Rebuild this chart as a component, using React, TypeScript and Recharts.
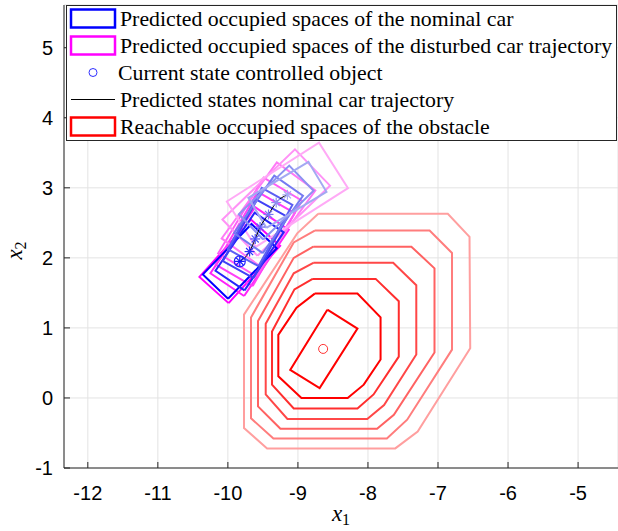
import React from "react";
import {
  ComposedChart,
  Line,
  Scatter,
  XAxis,
  YAxis,
  CartesianGrid,
  Legend,
} from "recharts";

const xTicks = [-12, -11, -10, -9, -8, -7, -6, -5];
const yTicks = [-1, 0, 1, 2, 3, 4, 5];

// nominal car trajectory: states and headings (deg)
const trajX = [-9.83, -9.69, -9.61, -9.54, -9.42, -9.31, -9.15];
const trajY = [1.95, 2.09, 2.27, 2.44, 2.62, 2.79, 2.9];
const headingNom = [46, 56, 61, 61, 55, 44, 31];
const carLength = 1.0;
const carWidth = 0.5;

// disturbed car: occupied box sizes grow along the horizon
const distLength = [1.1, 1.14, 1.2, 1.26, 1.34, 1.44, 1.56];
const distWidth = [0.56, 0.58, 0.61, 0.64, 0.68, 0.72, 0.77];
const headingDist = [48, 56, 60, 59, 54, 44, 32.5];

const blueColors = ["#0000ff", "#2424fb", "#4141f6", "#5c5ff3", "#7479f1", "#8c92f1", "#a3a9f2"];
const pinkColors = ["#ff00ff", "#ff22f9", "#ff40f7", "#ff5cf6", "#ff78f6", "#ff92f6", "#ffaaf6"];
const starColors = ["#1010ff", "#2e2efa", "#4848f6", "#6060f4", "#7878f3", "#9090f3", "#a5a8f4"];

// obstacle: current box and center
const obstacleX = [-8.58, -8.15, -8.69, -9.11];
const obstacleY = [1.26, 0.99, 0.14, 0.4];
const obstacleCenter = { x: -8.64, y: 0.7 };

// reachable occupied spaces of the obstacle, inner to outer
const reachX = [
  [-8.76, -8.15, -7.82, -7.82, -8.06, -8.29, -8.95, -9.28, -9.28, -9.02],
  [-8.79, -7.89, -7.56, -7.56, -7.92, -8.15, -9.06, -9.37, -9.37, -9.05],
  [-8.78, -7.64, -7.31, -7.31, -7.77, -8.01, -9.15, -9.46, -9.46, -9.06],
  [-8.78, -7.38, -7.05, -7.05, -7.63, -7.87, -9.25, -9.57, -9.57, -9.06],
  [-8.76, -7.12, -6.8, -6.8, -7.44, -7.73, -9.35, -9.67, -9.67, -9.06],
  [-8.71, -6.86, -6.55, -6.54, -7.29, -7.61, -9.44, -9.77, -9.77, -9.01],
];
const reachY = [
  [1.49, 1.49, 1.15, 0.55, 0.19, 0.0, 0.0, 0.31, 0.9, 1.29],
  [1.7, 1.7, 1.38, 0.59, 0.05, -0.15, -0.15, 0.19, 0.95, 1.55],
  [1.93, 1.93, 1.61, 0.62, -0.1, -0.3, -0.3, 0.05, 1.06, 1.78],
  [2.16, 2.16, 1.85, 0.65, -0.24, -0.44, -0.44, -0.12, 1.1, 2.0],
  [2.39, 2.39, 2.07, 0.69, -0.31, -0.58, -0.58, -0.29, 1.15, 2.22],
  [2.63, 2.63, 2.3, 0.71, -0.48, -0.72, -0.72, -0.43, 1.19, 2.35],
];
const reachColors = ["#ff0000", "#ff2e2e", "#ff4747", "#ff6262", "#ff7d7d", "#ff9f9f"];

const legendItems = [
  { label: "Predicted occupied spaces of the nominal car", kind: "box", color: "#0000ff" },
  { label: "Predicted occupied spaces of the disturbed car trajectory", kind: "box", color: "#ff00ff" },
  { label: "Current state controlled object", kind: "circle", color: "#3030ff" },
  { label: "Predicted states nominal car trajectory", kind: "line", color: "#000000" },
  { label: "Reachable occupied spaces of the obstacle", kind: "box", color: "#ff0000" },
];

function boxPoints(cx: number, cy: number, L: number, W: number, deg: number) {
  const t = (deg * Math.PI) / 180;
  const c = Math.cos(t);
  const s = Math.sin(t);
  const corners = [
    [-L / 2, -W / 2],
    [L / 2, -W / 2],
    [L / 2, W / 2],
    [-L / 2, W / 2],
    [-L / 2, -W / 2],
  ];
  return corners.map(([a, b]) => ({ x: cx + a * c - b * s, y: cy + a * s + b * c }));
}

function closed(xs: number[], ys: number[]) {
  const pts = xs.map((x, i) => ({ x, y: ys[i] }));
  return [...pts, pts[0]];
}

const nominalBoxes = trajX.map((x, i) => boxPoints(x, trajY[i], carLength, carWidth, headingNom[i]));
const disturbedBoxes = trajX.map((x, i) => boxPoints(x, trajY[i], distLength[i], distWidth[i], headingDist[i]));
const reachSets = reachX.map((xs, i) => closed(xs, reachY[i]));
const obstacleBox = closed(obstacleX, obstacleY);
const trajectory = trajX.map((x, i) => ({ x, y: trajY[i], color: starColors[i] }));

const tickFont = "'Liberation Sans', Arial, sans-serif";
const serif = "'Liberation Serif', 'Times New Roman', serif";

const XTick = (props: any) => {
  const { x, y, payload } = props;
  return (
    <g>
      <line x1={x} y1={y} x2={x} y2={y - 6} stroke="#262626" />
      <text x={x} y={y + 32} textAnchor="middle" fontFamily={tickFont} fontSize={20} fill="#000">
        {payload.value}
      </text>
    </g>
  );
};

const YTick = (props: any) => {
  const { x, y, payload } = props;
  return (
    <g>
      <line x1={x} y1={y} x2={x + 6} y2={y} stroke="#262626" />
      <text x={x - 11} y={y} dy="0.36em" textAnchor="end" fontFamily={tickFont} fontSize={20} fill="#000">
        {payload.value}
      </text>
    </g>
  );
};

const Star = (props: any) => {
  const { cx, cy, payload, index } = props;
  const r = 5;
  const d = r * 0.707;
  const col = payload.color;
  return (
    <g stroke={col} strokeWidth={1.2} fill="none">
      <line x1={cx - r} y1={cy} x2={cx + r} y2={cy} />
      <line x1={cx} y1={cy - r} x2={cx} y2={cy + r} />
      <line x1={cx - d} y1={cy - d} x2={cx + d} y2={cy + d} />
      <line x1={cx - d} y1={cy + d} x2={cx + d} y2={cy - d} />
      {index === 0 && <circle cx={cx} cy={cy} r={5.5} stroke="#2020ff" />}
    </g>
  );
};

const Dot = (props: any) => {
  const { cx, cy } = props;
  return <circle cx={cx} cy={cy} r={4.5} stroke="#ff3030" strokeWidth={1} fill="none" />;
};

const LegendBox = () => {
  const w = 551;
  const h = 136;
  return (
    <svg width={w} height={h} style={{ display: "block" }}>
      <rect x={0.5} y={0.5} width={w - 1} height={h - 1} fill="#fff" stroke="#262626" />
      {legendItems.map((it, i) => {
        const cy = 13.5 + i * 27;
        return (
          <g key={it.label}>
            {it.kind === "box" && (
              <rect x={5} y={cy - 9} width={44} height={18} fill="none" stroke={it.color} strokeWidth={2.5} />
            )}
            {it.kind === "circle" && <circle cx={27} cy={cy} r={4} fill="none" stroke={it.color} />}
            {it.kind === "line" && <line x1={5} y1={cy} x2={49} y2={cy} stroke={it.color} strokeWidth={1} />}
            <text
              x={it.kind === "circle" ? 52 : 54}
              y={cy}
              dy="0.34em"
              fontFamily={serif}
              fontSize={21.8}
              fill="#000"
            >
              {it.label}
            </text>
          </g>
        );
      })}
    </svg>
  );
};

const XLabel = (props: any) => {
  const { viewBox } = props;
  const cx = viewBox.x + viewBox.width / 2;
  return (
    <text x={cx} y={521} textAnchor="middle" fontFamily={serif} fontSize={23} fill="#000">
      <tspan fontStyle="italic">x</tspan>
      <tspan fontSize={16} dy={4}>1</tspan>
    </text>
  );
};

const YLabel = (props: any) => {
  const { viewBox } = props;
  const cy = viewBox.y + viewBox.height / 2 + 14;
  const cx = 22;
  return (
    <text
      x={cx}
      y={cy}
      textAnchor="middle"
      transform={`rotate(-90, ${cx}, ${cy})`}
      fontFamily={serif}
      fontSize={23}
      fill="#000"
    >
      <tspan fontStyle="italic">x</tspan>
      <tspan fontSize={16} dy={4}>2</tspan>
    </text>
  );
};

export default function App() {
  return (
    <div style={{ position: "absolute", left: 0, top: 0, background: "#fff" }}>
      <ComposedChart width={618} height={531} margin={{ top: 5, right: 0, bottom: 0, left: 0 }}>
        <CartesianGrid stroke="#e3e3e3" />
        <XAxis
          type="number"
          dataKey="x"
          domain={[-12.34, -4.43]}
          allowDataOverflow
          ticks={xTicks}
          height={63}
          tickSize={0}
          tickMargin={0}
          tick={<XTick />}
          stroke="#262626"
          label={{ content: <XLabel /> }}
        />
        <YAxis
          type="number"
          dataKey="y"
          domain={[-1, 5.61]}
          allowDataOverflow
          ticks={yTicks}
          width={64}
          tickSize={0}
          tickMargin={0}
          tick={<YTick />}
          stroke="#262626"
          label={{ content: <YLabel /> }}
        />

        {reachSets.map((pts, i) => (
          <Line
            key={"reach" + i}
            data={pts}
            dataKey="y"
            type="linear"
            stroke={reachColors[i]}
            strokeWidth={2}
            dot={false}
            isAnimationActive={false}
          />
        ))}
        <Line
          data={obstacleBox}
          dataKey="y"
          type="linear"
          stroke="#ff0000"
          strokeWidth={2}
          dot={false}
          isAnimationActive={false}
        />
        <Scatter data={[obstacleCenter]} shape={<Dot />} isAnimationActive={false} />

        {disturbedBoxes.map((pts, i) => (
          <Line
            key={"dist" + i}
            data={pts}
            dataKey="y"
            type="linear"
            stroke={pinkColors[i]}
            strokeWidth={2}
            dot={false}
            isAnimationActive={false}
          />
        ))}
        {nominalBoxes.map((pts, i) => (
          <Line
            key={"nom" + i}
            data={pts}
            dataKey="y"
            type="linear"
            stroke={blueColors[i]}
            strokeWidth={2}
            dot={false}
            isAnimationActive={false}
          />
        ))}
        <Line
          data={trajectory}
          dataKey="y"
          type="monotone"
          stroke="#000"
          strokeWidth={1}
          dot={false}
          isAnimationActive={false}
        />
        <Scatter data={trajectory} shape={<Star />} isAnimationActive={false} />

        <Legend
          layout="horizontal"
          verticalAlign="middle"
          align="center"
          content={<LegendBox />}
          wrapperStyle={{ left: 66, top: 5, width: 551, height: 136 }}
        />
      </ComposedChart>
    </div>
  );
}
